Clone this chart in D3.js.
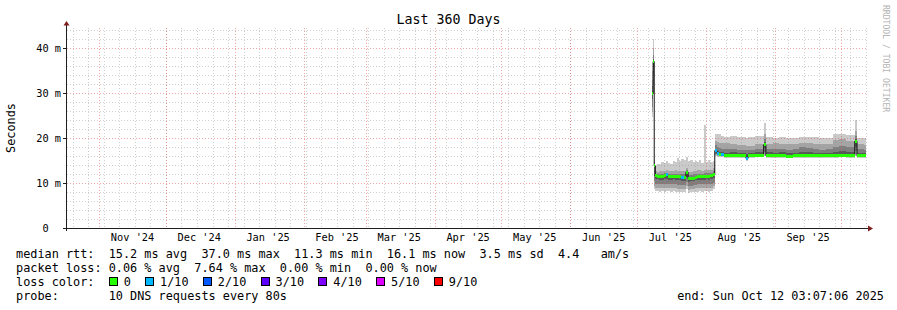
<!DOCTYPE html>
<html>
<head>
<meta charset="utf-8">
<script src="https://cdn.jsdelivr.net/npm/d3@7"></script>
<style>
html, body { margin: 0; padding: 0; background: #fff; }
svg { display: block; font-family: "DejaVu Sans Mono", monospace; }
text { white-space: pre; }
</style>
</head>
<body>
<div id="chart"></div>
<script>
// time window of the graph (360 days)
const endTime = new Date('2025-10-12T12:00:00Z');
const startTime = d3.utcDay.offset(endTime, -360);

// sample start times (each value holds until the next sample)
const sampleTimes = [
    '2025-07-07T18', '2025-07-08T06', '2025-07-08T18', '2025-07-09T06',
    '2025-07-10T00', '2025-07-11T00', '2025-07-12T00', '2025-07-13T00', '2025-07-14T00',
    '2025-07-15T00', '2025-07-16T00', '2025-07-17T00', '2025-07-18T00', '2025-07-19T00',
    '2025-07-20T00', '2025-07-21T00', '2025-07-22T00', '2025-07-23T00', '2025-07-24T00',
    '2025-07-25T00', '2025-07-26T00', '2025-07-27T00', '2025-07-28T00', '2025-07-29T00',
    '2025-07-30T00', '2025-07-31T00', '2025-08-01T00', '2025-08-02T00', '2025-08-03T00',
    '2025-08-04T00', '2025-08-05T00', '2025-08-06T00', '2025-08-07T00', '2025-08-08T00',
    '2025-08-09T00', '2025-08-12T00', '2025-08-15T00', '2025-08-19T00', '2025-08-20T00',
    '2025-08-23T00', '2025-08-27T00', '2025-08-28T00', '2025-08-31T00', '2025-09-03T00',
    '2025-09-06T00', '2025-09-09T00', '2025-09-12T00', '2025-09-15T00', '2025-09-18T00',
    '2025-09-21T00', '2025-09-24T00', '2025-09-27T00', '2025-09-30T00', '2025-10-03T00',
    '2025-10-07T00', '2025-10-08T00', '2025-10-11T00'
];
const dataEnd = '2025-10-12T00';

// median rtt in ms
const median = [
    29.8, 37.0, 13.8, 11.6,
    11.5, 11.5, 11.5, 11.6, 11.8, 11.5, 11.4, 11.5, 11.5, 11.4,
    11.4, 11.3, 11.3, 12.4, 11.0, 11.0, 11.1, 11.3, 11.4, 11.4,
    11.4, 11.4, 11.5, 11.5, 11.6, 11.9, 17.2, 16.6, 16.3, 16.3,
    16.1, 16.1, 16.1, 15.5, 16.1, 16.1, 18.5, 16.1, 16.1, 16.1,
    16.0, 16.1, 16.1, 16.1, 16.2, 16.1, 16.1, 16.2, 16.2, 16.2,
    19.3, 16.1, 16.1
];
// lost pings out of 10
const lossCount = [
    0, 0, 0, 0,
    0, 0, 0, 0, 1, 0, 0, 0, 0, 0,
    0, 1, 0, 0, 0, 0, 0, 0, 0, 0,
    0, 0, 0, 0, 0, 0, 1, 1, 0, 1,
    0, 0, 0, 1, 0, 0, 0, 0, 0, 0,
    0, 0, 0, 0, 0, 0, 0, 0, 0, 0,
    0, 0, 0
];
// smoke: sorted ping pairs, outermost (1) to innermost (4)
const lo1 = [
    24.7, 30.0, 8.6, 8.2,
    8.2, 8.1, 8.2, 8.1, 8.2, 8.2, 8.1, 8.2, 8.1, 8.0,
    8.0, 7.9, 7.9, 8.6, 7.8, 7.9, 8.0, 8.1, 8.1, 8.2,
    8.1, 8.2, 8.2, 8.1, 8.2, 8.6, 15.9, 15.8, 15.7, 15.7,
    15.6, 15.6, 15.6, 14.9, 15.6, 15.7, 16.0, 15.6, 15.6, 15.6,
    15.6, 15.6, 15.6, 15.6, 15.6, 15.6, 15.6, 15.6, 15.7, 15.6,
    16.0, 15.6, 15.6
];
const lo2 = [
    25.8, 32.0, 9.4, 8.9,
    8.9, 8.8, 8.9, 8.8, 8.9, 8.8, 8.8, 8.9, 8.8, 8.7,
    8.7, 8.6, 8.6, 9.4, 8.5, 8.6, 8.7, 8.8, 8.8, 8.9,
    8.8, 8.9, 8.9, 8.8, 8.9, 9.3, 16.2, 16.0, 15.9, 15.9,
    15.8, 15.8, 15.8, 15.1, 15.8, 15.8, 16.4, 15.8, 15.8, 15.8,
    15.7, 15.8, 15.8, 15.8, 15.8, 15.8, 15.8, 15.8, 15.8, 15.8,
    16.5, 15.8, 15.8
];
const lo3 = [
    27.0, 34.0, 10.4, 9.8,
    9.8, 9.7, 9.8, 9.7, 9.8, 9.7, 9.7, 9.8, 9.7, 9.6,
    9.6, 9.5, 9.5, 10.3, 9.3, 9.4, 9.5, 9.6, 9.7, 9.7,
    9.7, 9.8, 9.8, 9.7, 9.8, 10.1, 16.5, 16.2, 16.0, 16.0,
    15.9, 15.9, 15.9, 15.3, 15.9, 15.9, 17.0, 15.9, 15.9, 15.9,
    15.8, 15.9, 15.9, 15.9, 15.9, 15.9, 15.9, 15.9, 16.0, 15.9,
    17.2, 15.9, 15.9
];
const lo4 = [
    28.6, 35.8, 11.6, 10.8,
    10.8, 10.7, 10.7, 10.8, 10.8, 10.7, 10.7, 10.8, 10.7, 10.6,
    10.6, 10.5, 10.5, 11.4, 10.3, 10.4, 10.5, 10.6, 10.6, 10.7,
    10.7, 10.7, 10.8, 10.7, 10.8, 11.1, 16.8, 16.4, 16.2, 16.1,
    16.0, 16.0, 16.0, 15.4, 16.0, 16.0, 17.8, 16.0, 16.0, 16.0,
    15.9, 16.0, 16.0, 16.0, 16.0, 16.0, 16.0, 16.1, 16.1, 16.0,
    18.0, 16.0, 16.0
];
const hi4 = [
    30.5, 37.5, 14.0, 11.8,
    11.7, 11.7, 11.7, 11.8, 11.9, 11.7, 11.6, 11.7, 11.7, 11.6,
    11.6, 11.5, 11.5, 12.6, 11.2, 11.2, 11.3, 11.5, 11.6, 11.6,
    11.6, 11.6, 11.7, 11.7, 11.8, 12.2, 17.6, 17.1, 16.9, 16.8,
    16.7, 16.8, 16.7, 16.4, 16.7, 16.8, 19.2, 16.8, 16.7, 16.8,
    16.6, 16.7, 16.9, 16.8, 16.7, 16.6, 16.7, 17.0, 17.1, 16.9,
    19.8, 16.7, 16.7
];
const hi3 = [
    31.5, 38.5, 14.3, 12.1,
    12.0, 12.0, 12.1, 12.2, 12.2, 12.1, 12.0, 12.1, 12.1, 12.0,
    12.0, 11.9, 11.9, 12.9, 11.7, 11.8, 11.9, 12.0, 12.1, 12.1,
    12.1, 12.2, 12.2, 12.2, 12.3, 12.6, 18.4, 18.0, 17.8, 17.6,
    17.5, 17.6, 17.4, 17.3, 17.4, 17.5, 19.8, 17.6, 17.6, 17.5,
    17.4, 17.6, 17.9, 17.7, 17.5, 17.4, 17.5, 18.0, 18.2, 17.9,
    20.5, 17.5, 17.4
];
const hi2 = [
    33.0, 40.0, 14.6, 12.6,
    12.5, 12.6, 12.6, 12.7, 12.8, 12.7, 12.6, 12.7, 12.8, 12.7,
    12.6, 12.6, 12.7, 13.4, 12.4, 12.5, 12.6, 12.7, 12.8, 12.8,
    12.7, 13.0, 12.9, 12.8, 13.0, 13.4, 19.4, 19.1, 18.9, 18.9,
    18.8, 18.7, 18.4, 18.2, 18.3, 18.6, 21.0, 18.7, 18.8, 18.7,
    18.6, 18.7, 19.0, 18.9, 18.7, 18.6, 18.7, 19.5, 19.7, 19.3,
    21.5, 18.7, 18.5
];
const hi1 = [
    35.0, 42.0, 15.2, 14.0,
    14.3, 14.2, 14.6, 14.4, 14.8, 14.5, 14.3, 15.0, 14.7, 15.6,
    14.8, 15.4, 15.1, 15.8, 14.9, 15.2, 14.6, 14.8, 14.6, 15.1,
    14.4, 23.0, 14.7, 15.2, 14.6, 15.0, 21.0, 21.0, 20.8, 20.4,
    20.3, 20.4, 20.3, 20.1, 20.2, 20.4, 23.3, 20.2, 20.1, 20.2,
    19.9, 20.0, 20.3, 20.2, 20.3, 20.0, 20.1, 20.9, 21.0, 20.7,
    24.0, 20.1, 20.0
];

const lossLabels = ['0', '1/10', '2/10', '3/10', '4/10', '5/10', '9/10'];
const lossColors = ['#26ff00', '#00b8ff', '#0059ff', '#5e00ff', '#7e00ff', '#dd00ff', '#ff0000'];
const lossIndex = [0, 1, 2, 3, 4, 5, 5, 5, 5, 6, 6]; // lost pings -> legend entry

const titleText = 'Last 360 Days';
const rttLine = 'median rtt:  15.2 ms avg  37.0 ms max  11.3 ms min  16.1 ms now  3.5 ms sd  4.4   am/s';
const lossLine = 'packet loss: 0.06 % avg  7.64 % max  0.00 % min  0.00 % now';
const probeLine = 'probe:       10 DNS requests every 80s';
const endLine = 'end: Sun Oct 12 03:07:06 2025';

// ---- drawing ----
const W = 897, H = 310;
const plotLeft = 67, plotTop = 28, plotW = 800, plotH = 200;
const charW = 7.13;

const svg = d3.select('#chart').append('svg').attr('width', W).attr('height', H);
svg.append('rect').attr('width', W).attr('height', H).attr('fill', '#fff');

const x = d3.scaleUtc().domain([startTime, endTime]).range([plotLeft, plotLeft + plotW]);
const y = d3.scaleLinear().domain([0, plotH / 4.5]).range([plotTop + plotH, plotTop]);

const parse = d3.utcParse('%Y-%m-%dT%H');
const times = sampleTimes.map(parse);
const stopTime = parse(dataEnd);
const rows = times.map((t, i) => ({
    t: t,
    next: times[i + 1] || stopTime,
    med: median[i],
    loss: lossCount[i],
    lo: [lo1[i], lo2[i], lo3[i], lo4[i]],
    hi: [hi1[i], hi2[i], hi3[i], hi4[i]]
}));
const stepRows = rows.concat([Object.assign({}, rows[rows.length - 1], { t: stopTime })]);

// smoke bands
const bandColors = ['#cacaca', '#a4a4a4', '#7e7e7e', '#585858'];
const smoke = svg.append('g').attr('shape-rendering', 'crispEdges');
bandColors.forEach((c, k) => {
    const area = d3.area()
        .curve(d3.curveStepAfter)
        .x(d => x(d.t))
        .y0(d => y(d.lo[k]))
        .y1(d => y(d.hi[k]));
    smoke.append('path').datum(stepRows).attr('d', area).attr('fill', c);
});

// grid (drawn over the smoke, like rrdtool)
const grid = svg.append('g').attr('shape-rendering', 'crispEdges');
const px = v => Math.round(v) + 0.5;
const minorCol = 'rgba(143,143,143,0.42)';
const majorCol = 'rgba(222,79,79,0.5)';

const yMinor = y.ticks(22).filter(v => v % 10 !== 0);
const yMajor = y.ticks(5);
grid.selectAll('.hmin').data(yMinor).enter().append('line')
    .attr('x1', plotLeft).attr('x2', plotLeft + plotW)
    .attr('y1', d => px(y(d))).attr('y2', d => px(y(d)))
    .attr('stroke', minorCol).attr('stroke-dasharray', '1,2');

const weeks = d3.utcSunday.range(startTime, endTime);
const months = d3.utcMonth.range(startTime, endTime);
grid.selectAll('.vmin').data(weeks).enter().append('line')
    .attr('x1', d => px(x(d))).attr('x2', d => px(x(d)))
    .attr('y1', plotTop).attr('y2', plotTop + plotH)
    .attr('stroke', minorCol).attr('stroke-dasharray', '1,2');

grid.selectAll('.hmaj').data(yMajor.filter(v => v > 0)).enter().append('line')
    .attr('x1', plotLeft).attr('x2', plotLeft + plotW)
    .attr('y1', d => px(y(d))).attr('y2', d => px(y(d)))
    .attr('stroke', majorCol).attr('stroke-dasharray', '1,2');
grid.selectAll('.vmaj').data(months).enter().append('line')
    .attr('x1', d => px(x(d))).attr('x2', d => px(x(d)))
    .attr('y1', plotTop).attr('y2', plotTop + plotH)
    .attr('stroke', majorCol).attr('stroke-dasharray', '1,2');

// median line: black steps, loss-coloured bars on top
const medLine = d3.line().curve(d3.curveStepAfter).x(d => x(d.t)).y(d => y(d.med));
svg.append('path').datum(stepRows).attr('d', medLine)
    .attr('fill', 'none').attr('stroke', '#111').attr('stroke-width', 1);
svg.append('g').attr('shape-rendering', 'crispEdges')
    .selectAll('rect').data(rows).enter().append('rect')
    .attr('x', d => x(d.t))
    .attr('width', d => Math.max(1, x(d.next) - x(d.t)))
    .attr('y', d => y(d.med) - 1.5)
    .attr('height', 3)
    .attr('fill', d => lossColors[lossIndex[d.loss]]);

// axes
const axisCol = '#1f1f1f';
const arrowCol = '#7f1f1f';
const yBase = plotTop + plotH + 0.5;
svg.append('line').attr('x1', plotLeft - 4).attr('x2', plotLeft + plotW + 1)
    .attr('y1', yBase).attr('y2', yBase).attr('stroke', axisCol);
svg.append('line').attr('x1', plotLeft - 0.5).attr('x2', plotLeft - 0.5)
    .attr('y1', plotTop + plotH + 3).attr('y2', plotTop - 3).attr('stroke', axisCol);
svg.append('path')
    .attr('d', `M${plotLeft - 0.5},${plotTop - 7}L${plotLeft - 3.5},${plotTop - 2.5}L${plotLeft + 2.5},${plotTop - 2.5}Z`)
    .attr('fill', arrowCol);
svg.append('path')
    .attr('d', `M${plotLeft + plotW + 6},${yBase}L${plotLeft + plotW + 1},${yBase - 3}L${plotLeft + plotW + 1},${yBase + 3}Z`)
    .attr('fill', arrowCol);
svg.selectAll('.ytick').data(yMajor.filter(v => v > 0)).enter().append('line')
    .attr('x1', plotLeft - 4).attr('x2', plotLeft - 1)
    .attr('y1', d => px(y(d))).attr('y2', d => px(y(d)))
    .attr('stroke', axisCol).attr('shape-rendering', 'crispEdges');

// axis labels
svg.selectAll('.ylab').data(yMajor).enter().append('text')
    .attr('x', 61).attr('y', d => y(d) + 3.6)
    .attr('text-anchor', 'end').attr('font-size', 10.3)
    .text(d => d === 0 ? '0  ' : d + ' m');

const labelMonths = d3.utcMonth.range(d3.utcMonth.floor(startTime), endTime)
    .filter(m => { const c = d3.utcDay.offset(m, 15); return c > startTime && c < endTime; });
const fmt = d3.utcFormat("%b '%y");
svg.selectAll('.xlab').data(labelMonths).enter().append('text')
    .attr('x', d => x(d3.utcDay.offset(d, 15)))
    .attr('y', 241)
    .attr('text-anchor', 'middle').attr('font-size', 10.3)
    .text(d => fmt(d));

svg.append('text').attr('x', W / 2).attr('y', 24)
    .attr('text-anchor', 'middle').attr('font-size', 13.3).text(titleText);

svg.append('text').attr('transform', `translate(15,${plotTop + plotH / 2}) rotate(-90)`)
    .attr('text-anchor', 'middle').attr('font-size', 11.85).text('Seconds');

svg.append('text').attr('transform', 'translate(883,5) rotate(90)')
    .attr('font-size', 8.1).attr('fill', '#b4b4b4').text('RRDTOOL / TOBI OETIKER');

// legend
const legX = 16;
const legY = [257.5, 271.7, 285.9, 300.1];
svg.append('text').attr('x', legX).attr('y', legY[0]).attr('font-size', 11.85).text(rttLine);
svg.append('text').attr('x', legX).attr('y', legY[1]).attr('font-size', 11.85).text(lossLine);
svg.append('text').attr('x', legX).attr('y', legY[2]).attr('font-size', 11.85).text('loss color:');
svg.append('text').attr('x', legX).attr('y', legY[3]).attr('font-size', 11.85).text(probeLine);
svg.append('text').attr('x', 884).attr('y', legY[3]).attr('text-anchor', 'end')
    .attr('font-size', 11.85).text(endLine);

let col = 13;
lossLabels.forEach((lab, i) => {
    const bx = Math.round(legX + col * charW) + 0.5;
    svg.append('rect').attr('x', bx).attr('y', legY[2] - 8.5)
        .attr('width', 8).attr('height', 8)
        .attr('fill', lossColors[i]).attr('stroke', '#000').attr('shape-rendering', 'crispEdges');
    svg.append('text').attr('x', legX + (col + 2.1) * charW).attr('y', legY[2])
        .attr('font-size', 11.85).text(lab);
    col += 2.1 + lab.length + 2;
});
</script>
</body>
</html>
